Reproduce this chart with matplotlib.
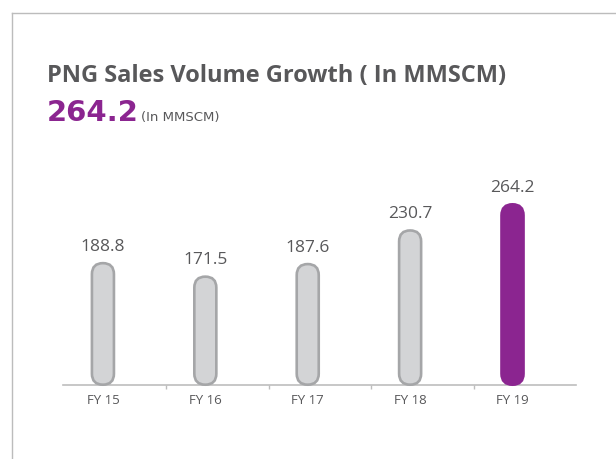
import matplotlib
matplotlib.use("Agg")
import matplotlib.pyplot as plt
from matplotlib.patches import FancyBboxPatch
from matplotlib.lines import Line2D

categories = ["FY 15", "FY 16", "FY 17", "FY 18", "FY 19"]
values = [188.8, 171.5, 187.6, 230.7, 264.2]
value_labels = ["188.8", "171.5", "187.6", "230.7", "264.2"]
headline = "264.2"
title = "PNG Sales Volume Growth ( In MMSCM)"
unit = "(In MMSCM)"

W, H = 616, 459
DPI = 100
fig = plt.figure(figsize=(W / DPI, H / DPI), dpi=DPI)
fig.patch.set_facecolor("white")

def fx(px):
    return px / W

def fy(py):
    return 1 - py / H

GRAY_TXT = "#58585a"
PURPLE = "#8b2590"
BAR_FILL = "#d3d4d6"
BAR_EDGE = "#a5a6a8"
AXIS = "#bdbdbd"
FONT = ["Open Sans", "DejaVu Sans"]
FONT2 = ["DejaVu Sans"]

# frame lines
fig.add_artist(Line2D([fx(11.5), fx(11.5)], [fy(12.5), 0], color="#bcbcbc", lw=1.0, transform=fig.transFigure))
fig.add_artist(Line2D([fx(11.5), 1], [fy(12.5), fy(12.5)], color="#bcbcbc", lw=1.0, transform=fig.transFigure))

# axes
ax_left, ax_right = 63, 576
ax_base, ax_top = 384.7, 160
ax = fig.add_axes([fx(ax_left), fy(ax_base), (ax_right - ax_left) / W, (ax_base - ax_top) / H])
ax.set_xlim(-0.39, 4.62)
ax.set_ylim(33, 321)
for s in ["top", "right", "left"]:
    ax.spines[s].set_visible(False)
ax.spines["bottom"].set_color(AXIS)
ax.spines["bottom"].set_linewidth(1.2)
ax.set_yticks([])
x = list(range(len(categories)))
ax.set_xticks(x)
ax.set_xticklabels(categories, fontsize=9.5, color=GRAY_TXT, family=FONT)
ax.tick_params(axis="x", which="major", length=0, pad=7)
ax.set_xticks([i + 0.62 for i in range(len(categories) - 1)], minor=True)
ax.tick_params(axis="x", which="minor", length=3, color=AXIS, width=1, direction="out")

# aspect for rounded corners
p0 = ax.transData.transform((0, 0))
p1 = ax.transData.transform((1, 1))
px_per_x = p1[0] - p0[0]
px_per_y = p1[1] - p0[1]
aspect = px_per_x / px_per_y

bar_w = 0.215
y0 = ax.get_ylim()[0]
for i, v in enumerate(values):
    last = i == len(values) - 1
    fc = PURPLE if last else BAR_FILL
    ec = PURPLE if last else BAR_EDGE
    patch = FancyBboxPatch((i - bar_w / 2, y0), bar_w, v - y0,
                           boxstyle=f"round,pad=0,rounding_size={bar_w / 2}",
                           mutation_aspect=aspect, facecolor=fc, edgecolor=ec,
                           linewidth=1.9, clip_on=False, zorder=3)
    ax.add_patch(patch)
    ax.annotate(value_labels[i], (i, v), xytext=(0, 6), textcoords="offset points",
                ha="center", va="bottom", fontsize=12.5, color=GRAY_TXT, family=FONT)

# titles
fig.text(fx(47), fy(82), title, fontsize=17, fontweight="bold", color=GRAY_TXT,
         family=FONT, va="baseline", ha="left")
fig.text(fx(47), fy(121), headline, fontsize=21, fontweight="bold", color=PURPLE,
         family=FONT2, va="baseline", ha="left")
fig.text(fx(141), fy(121), unit, fontsize=9.5, color=GRAY_TXT,
         family=FONT2, va="baseline", ha="left")

fig.savefig("out.png", dpi=DPI)
